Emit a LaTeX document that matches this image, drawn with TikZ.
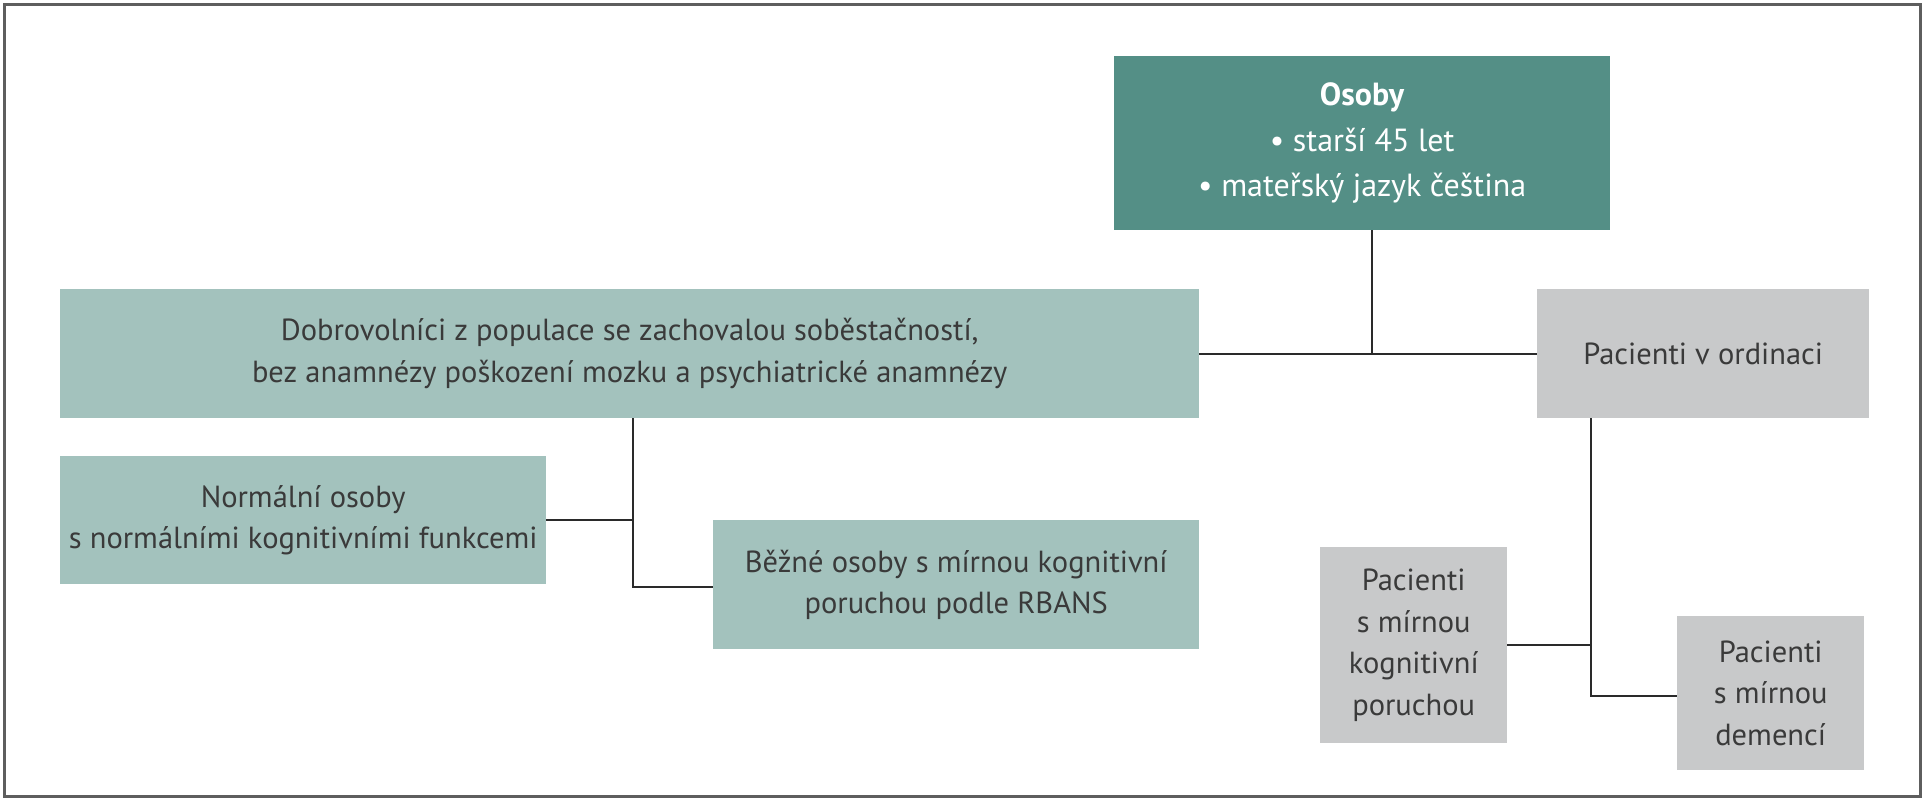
\documentclass[tikz,border=0pt]{standalone}
\usepackage{fontspec}
\setmainfont{PT Sans}
\definecolor{tealdark}{HTML}{548F86}
\definecolor{teallight}{HTML}{A3C2BD}
\definecolor{graybox}{HTML}{C8C9CA}
\definecolor{txt}{HTML}{3A3A3A}
\definecolor{linec}{HTML}{2A2A2A}
\definecolor{framec}{HTML}{5E5E5E}
\tikzset{
  box/.style={anchor=north west, inner sep=0pt, align=center, text=txt,
    font=\fontsize{30.5}{41.5}\selectfont},
  greenbox/.style={box, fill=teallight},
  greybox/.style={box, fill=graybox},
  conn/.style={draw=linec, line width=1.7pt}
}
\begin{document}
\begin{tikzpicture}[x=1pt,y=-1pt]
\useasboundingbox (0,0) rectangle (1924,800);
\draw[framec, line width=3pt] (4,5) rectangle (1920,796);

\node[box, fill=tealdark, text=white, minimum width=496pt, minimum height=174pt,
  font=\fontsize{32}{45.5}\selectfont] (osoby) at (1114,56)
  {\textbf{Osoby}\\• starší 45 let\\• mateřský jazyk čeština};

\node[greenbox, minimum width=1139pt, minimum height=129pt] (dobro) at (60,289)
  {Dobrovolníci z populace se zachovalou soběstačností,\\bez anamnézy poškození mozku a psychiatrické anamnézy};

\node[greybox, minimum width=332pt, minimum height=129pt] (ordin) at (1537,289)
  {Pacienti v ordinaci};

\node[greenbox, minimum width=486pt, minimum height=128pt] (normal) at (60,456)
  {Normální osoby\\s normálními kognitivními funkcemi};

\node[greenbox, minimum width=486pt, minimum height=129pt] (bezne) at (713,520)
  {Běžné osoby s mírnou kognitivní\\poruchou podle RBANS};

\node[greybox, minimum width=187pt, minimum height=196pt] (pmkp) at (1320,547)
  {Pacienti\\s mírnou\\kognitivní\\poruchou};

\node[greybox, minimum width=187pt, minimum height=154pt] (demence) at (1677,616)
  {Pacienti\\s mírnou\\demencí};

\coordinate (j1) at (1372,354);
\coordinate (j2) at (633,587);
\coordinate (j3) at (1591,696);

\draw[conn] (osoby.south -| j1) -- (j1);
\draw[conn] (dobro.east) -- (ordin.west);
\draw[conn] (dobro.south -| j2) -- (j2) -- (bezne.west |- j2);
\draw[conn] (normal.east) -- (normal.east -| j2);
\draw[conn] (ordin.south -| j3) -- (j3) -- (demence.west |- j3);
\draw[conn] (pmkp.east) -- (pmkp.east -| j3);
\end{tikzpicture}
\end{document}
